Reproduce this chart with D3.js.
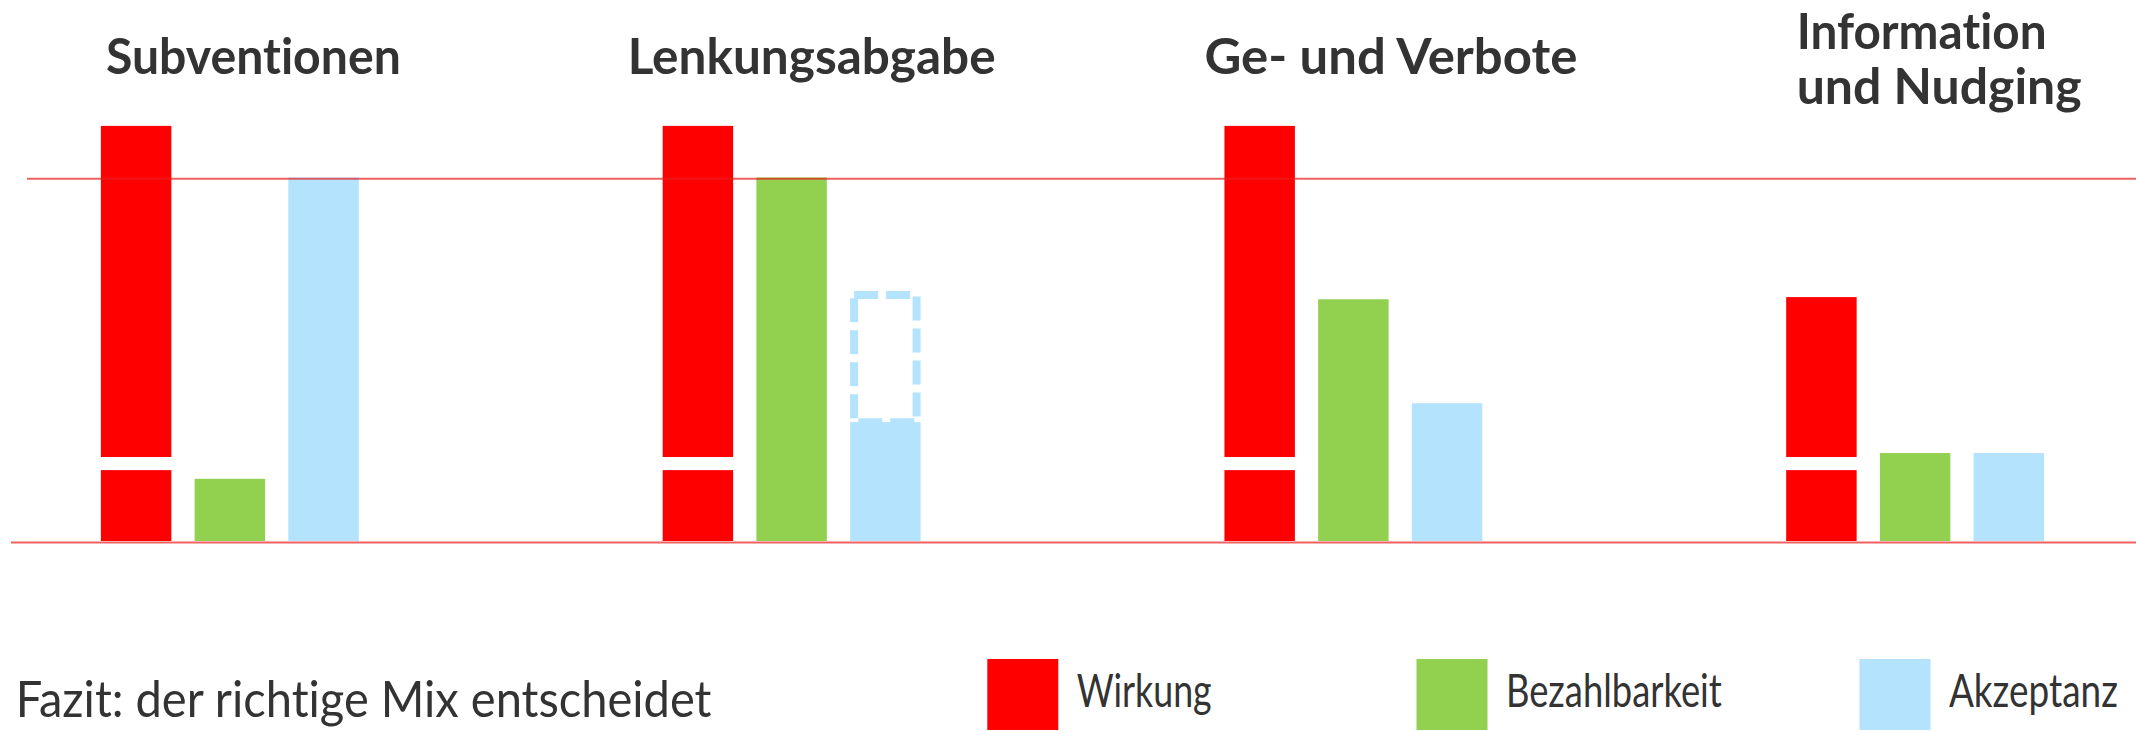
<!DOCTYPE html>
<html lang="de">
<head>
<meta charset="utf-8">
<title>Instrumente im Vergleich</title>
<script src="https://cdn.jsdelivr.net/npm/d3@7/dist/d3.min.js"></script>
<style>
  html, body { margin: 0; padding: 0; background: #fff; }
  svg { display: block; }
  text { font-family: Lato, "Open Sans", sans-serif; fill: #333; font-variant-ligatures: none; }
</style>
</head>
<body>
<svg id="chart" width="2136" height="731"></svg>
<script>
// Instruments compared
const categories = ["Subventionen", "Lenkungsabgabe", "Ge- und Verbote", "Information und Nudging"];
const titleLines = [["Subventionen"], ["Lenkungsabgabe"], ["Ge- und Verbote"], ["Information", "und Nudging"]];

// Criteria (series)
const series = ["Wirkung", "Bezahlbarkeit", "Akzeptanz"];
const wirkung       = [11.42, 11.42, 11.42, 6.71];
const bezahlbarkeit = [1.71, 10, 6.65, 2.42];
const akzeptanz     = [10, 3.27, 3.79, 2.42];
// Possible acceptance (outlined, dashed)
const akzeptanzPotenzial = [null, 6.77, null, null];

const referenceLevel = 10;      // horizontal reference line
const axisBreak = [1.95, 2.31]; // gap cut into the Wirkung bars

const conclusion = "Fazit: der richtige Mix entscheidet";
const colors = ["#ff0000", "#92d050", "#b3e3fd"];

// ---- layout ----
const W = 2136, H = 731;
const svg = d3.select("#chart");

const y = d3.scaleLinear().domain([0, 10]).range([541, 177.5]);
const x0 = d3.scaleBand().domain(categories).range([100.9, 100.9 + 4 * 561.76]);
const x1 = d3.scaleBand().domain(series).range([0, 257.9]).paddingInner(0.248).paddingOuter(0);
const color = d3.scaleOrdinal().domain(series).range(colors);

const valuesBySeries = { "Wirkung": wirkung, "Bezahlbarkeit": bezahlbarkeit, "Akzeptanz": akzeptanz };
const rows = [];
categories.forEach((c, i) => series.forEach(s => rows.push({ cat: c, s, v: valuesBySeries[s][i] })));

// bars
const bars = svg.append("g");
bars.selectAll("rect.bar").data(rows).join("rect")
  .attr("class", "bar")
  .attr("x", d => x0(d.cat) + x1(d.s))
  .attr("width", x1.bandwidth())
  .attr("y", d => y(d.v))
  .attr("height", d => y(0) - y(d.v))
  .attr("fill", d => color(d.s));

// dashed outline for potential acceptance
const sw = 8;
const pot = categories.map((c, i) => ({ cat: c, p: akzeptanzPotenzial[i], v: akzeptanz[i] })).filter(d => d.p != null);
bars.selectAll("rect.pot").data(pot).join("rect")
  .attr("class", "pot")
  .attr("x", d => x0(d.cat) + x1("Akzeptanz") + sw / 2)
  .attr("width", x1.bandwidth() - sw)
  .attr("y", d => y(d.p))
  .attr("height", d => y(d.v) - y(d.p))
  .attr("fill", "none")
  .attr("stroke", color("Akzeptanz"))
  .attr("stroke-width", sw)
  .attr("stroke-dasharray", "24 8");

// axis break on the Wirkung bars
bars.selectAll("rect.brk").data(categories).join("rect")
  .attr("class", "brk")
  .attr("x", c => x0(c) + x1("Wirkung") - 1)
  .attr("width", x1.bandwidth() + 2)
  .attr("y", y(axisBreak[1]))
  .attr("height", y(axisBreak[0]) - y(axisBreak[1]))
  .attr("fill", "#fff");

// reference and base lines
svg.append("line")
  .attr("x1", 27).attr("x2", W)
  .attr("y1", y(referenceLevel) + 1.2).attr("y2", y(referenceLevel) + 1.2)
  .attr("stroke", "rgba(232,30,30,0.7)").attr("stroke-width", 2);
svg.append("line")
  .attr("x1", 11).attr("x2", W)
  .attr("y1", y(0) + 1.5).attr("y2", y(0) + 1.5)
  .attr("stroke", "rgba(232,30,30,0.7)").attr("stroke-width", 2);

// place a text at (x, baseline) and scale it horizontally to a given width
function fittedText(parent, str, x, yBase, size, weight, width) {
  const t = parent.append("text")
    .attr("font-size", size)
    .attr("font-weight", weight)
    .text(str);
  const natural = t.node().getComputedTextLength();
  const k = width / natural;
  t.attr("transform", `translate(${x},${yBase}) scale(${k},1)`);
  return t;
}

// category titles
const titleDx = [5, -35, -20, 10.5];
const titleWidths = [[295], [368], [373], [250, 285]];
const titleBaselines = [[74], [74], [74], [48.7, 104]];
categories.forEach((c, i) => {
  titleLines[i].forEach((line, j) => {
    fittedText(svg, line, x0(c) + titleDx[i], titleBaselines[i][j], 49, 700, titleWidths[i][j]);
  });
});

// conclusion
fittedText(svg, conclusion, 15.7, 717.3, 51, 400, 696);

// legend
const legendX = [987.3, 1416.5, 1859.5];
const legendTextW = [135, 216, 169];
const legend = svg.append("g");
series.forEach((s, i) => {
  legend.append("rect")
    .attr("x", legendX[i]).attr("y", 659)
    .attr("width", 71).attr("height", 71)
    .attr("fill", color(s));
  fittedText(legend, s, legendX[i] + 89.4, 706.7, 46, 400, legendTextW[i]);
});
</script>
</body>
</html>
